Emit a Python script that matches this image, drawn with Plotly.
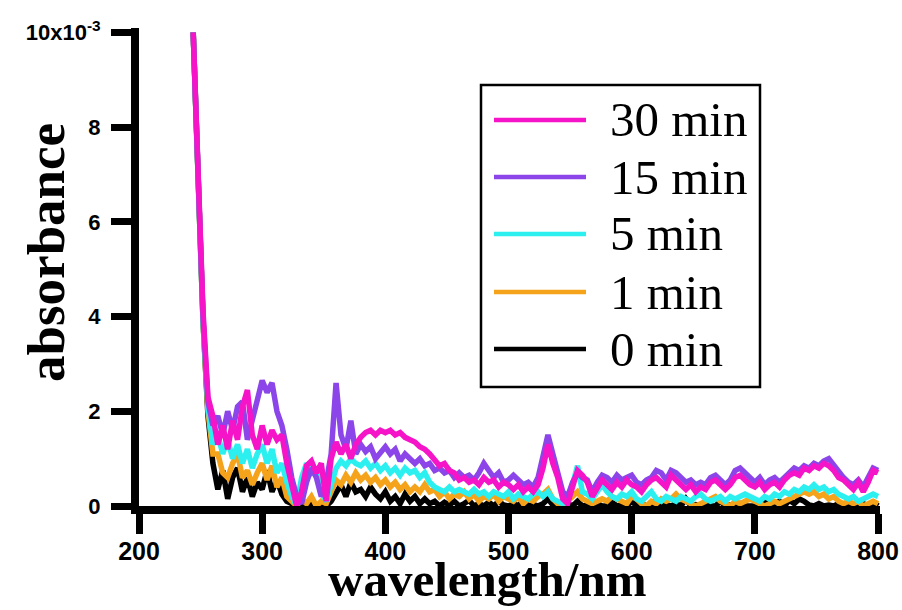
import plotly.graph_objects as go

# Wavelength grid (nm), 4 nm spacing
wavelength = list(range(244, 801, 4))

abs_0min = [
    10.0, 6.6, 3.9, 1.9, 0.9, 0.35, 0.75, 0.15, 0.6, 0.8,
    0.3, 0.6, 0.2, 0.5, 0.35, 0.75, 0.3, 0.55, 0.25, 0.1,
    0.05, 0.0, 0.02, 0.0, 0.05, 0.0, 0.05, 0.0, 0.1, 0.25,
    0.45, 0.2, 0.5, 0.3, 0.35, 0.2, 0.4, 0.25, 0.15, 0.3,
    0.1, 0.2, 0.05, 0.25, 0.1, 0.2, 0.05, 0.15, 0.05, 0.1,
    0.0, 0.08, 0.02, 0.1, 0.0, 0.05, 0.12, 0.0, 0.05, 0.0,
    0.08, 0.0, 0.1, 0.02, 0.0, 0.05, 0.0, 0.12, 0.0, 0.03,
    0.0, 0.05, 0.15, 0.02, 0.0, 0.0, 0.05, 0.0, 0.1, 0.0,
    0.02, 0.0, 0.05, 0.0, 0.0, 0.08, 0.0, 0.02, 0.0, 0.1,
    0.0, 0.05, 0.0, 0.0, 0.12, 0.0, 0.02, 0.0, 0.05, 0.0,
    0.15, 0.0, 0.03, 0.0, 0.05, 0.0, 0.0, 0.1, 0.0, 0.02,
    0.0, 0.05, 0.0, 0.0, 0.02, 0.0, 0.08, 0.0, 0.05, 0.1,
    0.0, 0.12, 0.05, 0.15, 0.1, 0.02, 0.0, 0.05, 0.0, 0.02,
    0.0, 0.05, 0.0, 0.0, 0.02, 0.0, 0.05, 0.0, 0.08, 0.0,
]

abs_1min = [
    10.0, 6.6, 3.9, 2.0, 1.1, 1.1, 0.7, 0.6, 0.9, 1.1,
    0.6, 0.75, 0.45, 0.7, 0.9, 0.55, 0.85, 0.4, 0.6, 0.2,
    0.1, 0.0, 0.15, 0.05, 0.2, 0.0, 0.1, 0.05, 0.3, 0.55,
    0.45, 0.65, 0.5, 0.7, 0.55, 0.65, 0.5, 0.6, 0.45, 0.55,
    0.4, 0.5, 0.35, 0.45, 0.3, 0.4, 0.3, 0.45, 0.3, 0.35,
    0.2, 0.3, 0.15, 0.25, 0.2, 0.3, 0.15, 0.25, 0.1, 0.2,
    0.15, 0.25, 0.1, 0.2, 0.15, 0.1, 0.2, 0.05, 0.15, 0.1,
    0.2, 0.25, 0.35, 0.15, 0.05, 0.0, 0.1, 0.2, 0.3, 0.15,
    0.1, 0.05, 0.1, 0.15, 0.1, 0.2, 0.15, 0.1, 0.05, 0.2,
    0.15, 0.05, 0.0, 0.1, 0.05, 0.15, 0.1, 0.15, 0.25, 0.15,
    0.1, 0.05, 0.0, 0.05, 0.1, 0.15, 0.2, 0.1, 0.05, 0.0,
    0.1, 0.05, 0.1, 0.15, 0.1, 0.05, 0.0, 0.05, 0.1, 0.05,
    0.1, 0.15, 0.2, 0.25, 0.3, 0.25, 0.3, 0.2, 0.25, 0.15,
    0.2, 0.1, 0.05, 0.1, 0.05, 0.1, 0.0, 0.05, 0.1, 0.05,
]

abs_5min = [
    10.0, 6.6, 3.9, 2.1, 1.3, 1.5, 1.1, 1.4, 1.0, 1.3,
    0.9, 1.2, 0.8, 1.1, 1.3, 0.9, 1.2, 0.7, 0.9, 0.5,
    0.2, 0.0, 0.6, 0.9, 0.7, 0.8, 0.3, 0.1, 0.5, 0.8,
    0.95, 0.85, 1.0, 0.9, 0.85, 0.95, 0.8, 0.9, 0.75, 0.85,
    0.7, 0.8, 0.65, 0.8, 0.7, 0.75, 0.6, 0.7, 0.5, 0.4,
    0.35, 0.3, 0.4, 0.3, 0.35, 0.3, 0.25, 0.35, 0.25, 0.3,
    0.2, 0.3, 0.25, 0.2, 0.3, 0.15, 0.25, 0.2, 0.15, 0.25,
    0.3, 0.2, 0.3, 0.15, 0.1, 0.05, 0.2, 0.45, 0.85, 0.3,
    0.25, 0.15, 0.3, 0.45, 0.3, 0.2, 0.15, 0.25, 0.2, 0.3,
    0.15, 0.1, 0.2, 0.3, 0.15, 0.1, 0.2, 0.15, 0.1, 0.2,
    0.15, 0.1, 0.2, 0.25, 0.15, 0.1, 0.15, 0.2, 0.1, 0.2,
    0.15, 0.2, 0.25, 0.2, 0.15, 0.1, 0.2, 0.15, 0.25, 0.2,
    0.3, 0.25, 0.35, 0.3, 0.4, 0.35, 0.45, 0.35, 0.4, 0.3,
    0.35, 0.25, 0.2, 0.15, 0.2, 0.1, 0.15, 0.2, 0.25, 0.2,
]

abs_15min = [
    10.0, 6.7, 4.0, 2.2, 1.7, 1.9, 1.5, 2.0, 1.6, 2.1,
    2.2, 1.4, 1.8, 2.2, 2.65, 2.4, 2.6, 2.0, 1.7, 1.2,
    0.6, 0.2, 0.05, 0.5, 0.8, 0.6, 0.2, 0.5, 1.1, 2.6,
    1.5, 1.2, 1.8, 1.1, 1.3, 1.15, 1.25, 1.0, 1.15, 1.25,
    1.1, 1.2, 0.95, 1.1, 1.0, 0.9, 1.0, 0.85, 0.9, 0.75,
    0.8, 0.7, 0.75, 0.6, 0.7, 0.6, 0.65, 0.55, 0.7, 0.9,
    0.75, 0.6, 0.7, 0.5, 0.55, 0.65, 0.55, 0.45, 0.5, 0.4,
    0.6, 1.0, 1.5, 1.1, 0.7, 0.3, 0.2, 0.5, 0.7, 0.6,
    0.55, 0.3, 0.5, 0.65, 0.6, 0.5, 0.65, 0.55, 0.6, 0.65,
    0.5, 0.45, 0.55, 0.6, 0.75, 0.7, 0.55, 0.75, 0.7, 0.6,
    0.5, 0.55, 0.45, 0.5, 0.45, 0.6, 0.65, 0.55, 0.45, 0.55,
    0.75, 0.8, 0.7, 0.6, 0.5, 0.6, 0.45, 0.55, 0.6, 0.5,
    0.6, 0.7, 0.8, 0.75, 0.85, 0.8, 0.9, 0.85, 0.95, 1.0,
    0.85, 0.7, 0.6, 0.5, 0.45, 0.55, 0.4, 0.6, 0.8, 0.75,
]

abs_30min = [
    10.0, 6.8, 4.1, 2.3, 1.9, 1.3, 1.7, 1.2, 1.8, 1.4,
    2.1, 2.45, 1.5, 1.2, 1.7, 1.3, 1.6, 1.4, 1.5, 0.9,
    0.4, 0.0, 0.3, 0.85, 0.95, 0.7, 0.9, 0.1, 1.0, 1.35,
    1.1, 1.3, 1.0, 1.3, 1.45, 1.55, 1.6, 1.5, 1.6, 1.55,
    1.6, 1.5, 1.55, 1.45, 1.4, 1.35, 1.25, 1.2, 1.1, 0.95,
    0.85, 0.9, 0.75, 0.7, 0.55, 0.6, 0.5, 0.55, 0.45, 0.6,
    0.5, 0.55, 0.4, 0.5, 0.45, 0.35, 0.45, 0.3, 0.4, 0.3,
    0.45, 0.8, 1.3, 0.9, 0.6, 0.15, 0.05, 0.4, 0.75, 0.65,
    0.5, 0.2, 0.35, 0.55, 0.45, 0.35, 0.5, 0.4, 0.55, 0.45,
    0.4, 0.3, 0.45, 0.55, 0.6, 0.5, 0.4, 0.65, 0.55, 0.45,
    0.35, 0.45, 0.3, 0.4, 0.35, 0.5, 0.55, 0.45, 0.35, 0.45,
    0.6, 0.65, 0.55, 0.45, 0.4, 0.5, 0.35, 0.45, 0.5, 0.4,
    0.55, 0.65, 0.7, 0.65, 0.8, 0.75, 0.85, 0.8, 0.9, 0.85,
    0.75, 0.6, 0.55, 0.45, 0.35, 0.5, 0.3, 0.5, 0.75, 0.7,
]

series_names = ["0 min", "1 min", "5 min", "15 min", "30 min"]
series_values = [abs_0min, abs_1min, abs_5min, abs_15min, abs_30min]
series_colors = ["#000000", "#F5A31A", "#2CF0F0", "#8B45E8", "#F514C8"]

x_tick_vals = [200, 300, 400, 500, 600, 700, 800]
y_tick_vals = [0, 2, 4, 6, 8, 10]
y_tick_text = ["0", "2", "4", "6", "8", "10x10<sup>-3</sup>"]

# Plot-area edges in pixels, used to place the key and the axis titles
PL, PR, PT, PB = 139, 880, 28, 506


def px_x(px):
    return (px - PL) / (PR - PL)


def px_y(py):
    return (PB - py) / (PB - PT)


fig = go.Figure()
for name, vals, color in zip(series_names, series_values, series_colors):
    fig.add_trace(go.Scatter(
        x=wavelength, y=vals, name=name, mode="lines",
        line=dict(color=color, width=5.5),
    ))

axis_common = dict(
    showline=True, linecolor="black", linewidth=8,
    ticks="outside", ticklen=20, tickwidth=7, tickcolor="black",
    showgrid=False, zeroline=False, automargin=False,
)

fig.update_xaxes(
    range=[200, 801.6], tickvals=x_tick_vals,
    tickfont=dict(family="Liberation Sans, Arial", size=25, color="black", weight="bold"),
    ticklabelstandoff=-4,
    **axis_common,
)
fig.update_yaxes(
    range=[0.0, 10.095], tickvals=y_tick_vals, ticktext=y_tick_text,
    tickfont=dict(family="Liberation Sans, Arial", size=22, color="black", weight="bold"),
    ticklabelstandoff=6,
    **axis_common,
)

# Axis titles
fig.add_annotation(
    text="<b>absorbance</b>", textangle=-90,
    xref="paper", yref="paper", x=px_x(46), y=px_y(253),
    xanchor="center", yanchor="middle", showarrow=False,
    font=dict(family="Liberation Serif, Times New Roman", size=53, color="black"),
)
fig.add_annotation(
    text="<b>wavelength/nm</b>",
    xref="paper", yref="paper", x=px_x(487), y=px_y(609),
    xanchor="center", yanchor="bottom", showarrow=False,
    font=dict(family="Liberation Serif, Times New Roman", size=49, color="black"),
)

# Boxed key: newest series first
fig.add_shape(
    type="rect", xref="paper", yref="paper",
    x0=px_x(481), x1=px_x(760), y0=px_y(387), y1=px_y(85),
    line=dict(color="black", width=2.5), fillcolor="white", layer="above",
)
row_y = [120, 177, 234, 292, 349]
for ry, name, color in zip(row_y, series_names[::-1], series_colors[::-1]):
    fig.add_shape(
        type="line", xref="paper", yref="paper",
        x0=px_x(494), x1=px_x(586), y0=px_y(ry), y1=px_y(ry),
        line=dict(color=color, width=4.5), layer="above",
    )
    fig.add_annotation(
        text=name, xref="paper", yref="paper",
        x=px_x(608), y=px_y(ry), xanchor="left", yanchor="middle",
        showarrow=False,
        font=dict(family="Liberation Serif, Times New Roman", size=49, color="black"),
    )

fig.update_layout(
    width=902, height=610,
    margin=dict(l=PL, r=902 - PR, t=PT, b=610 - PB),
    plot_bgcolor="white", paper_bgcolor="white",
    showlegend=False,
)

fig.write_html("out.html")
